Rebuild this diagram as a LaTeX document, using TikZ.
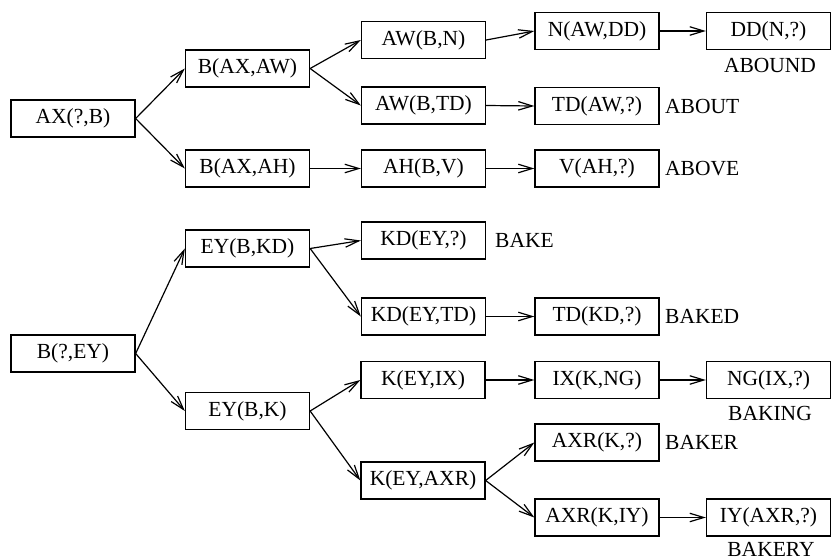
\documentclass[tikz,border=0pt]{standalone}
\usepackage{fontspec}
\setmainfont{Liberation Serif}
\usetikzlibrary{arrows.meta}
\begin{document}
\begin{tikzpicture}[x=1pt,y=-1pt,
  state/.style={draw,line width=1.3pt,minimum width=124pt,minimum height=37pt,inner sep=0pt,font=\fontsize{21.5}{24}\selectfont},
  word/.style={inner sep=0pt,font=\fontsize{21.5}{24}\selectfont},
  link/.style={line width=1.2pt,-{Straight Barb[length=14pt,width=8.5pt,line width=1.2pt]}}]
\useasboundingbox (0,0) rectangle (831,560);
% first tree
\node[state] (ax) at (73,118.5) {AX(?,B)};
\node[state] (baw) at (247.5,68.5) {B(AX,AW)};
\node[state] (bah) at (247.5,168.5) {B(AX,AH)};
\node[state] (awn) at (423.5,40) {AW(B,N)};
\node[state] (awtd) at (423.5,105.5) {AW(B,TD)};
\node[state] (ahv) at (423.5,168.5) {AH(B,V)};
\node[state] (nawdd) at (597,31) {N(AW,DD)};
\node[state] (ddn) at (768.5,31) {DD(N,?)};
\node[state] (tdaw) at (597,106) {TD(AW,?)};
\node[state] (vah) at (597,168.5) {V(AH,?)};
\node[word] (wabound) at (770,65) {ABOUND};
\node[word,anchor=west] (wabout) at (665,106) {ABOUT};
\node[word,anchor=west] (wabove) at (665,168.5) {ABOVE};
% second tree
\node[state] (bey) at (73,353.5) {B(?,EY)};
\node[state] (eykd) at (247.5,248.5) {EY(B,KD)};
\node[state] (eyk) at (247.5,411) {EY(B,K)};
\node[state] (kdey) at (423.5,240.5) {KD(EY,?)};
\node[state] (kdeytd) at (423.5,316.5) {KD(EY,TD)};
\node[state] (tdkd) at (597,316.5) {TD(KD,?)};
\node[state] (keyix) at (423,380) {K(EY,IX)};
\node[state] (ixkng) at (597,380) {IX(K,NG)};
\node[state] (ngix) at (768.5,380) {NG(IX,?)};
\node[state] (keyaxr) at (423,480.5) {K(EY,AXR)};
\node[state] (axrk) at (597,442.5) {AXR(K,?)};
\node[state] (axrkiy) at (597,517.5) {AXR(K,IY)};
\node[state] (iyaxr) at (768.5,517.5) {IY(AXR,?)};
\node[word,anchor=west] (wbake) at (495,240.5) {BAKE};
\node[word,anchor=west] (wbaked) at (665,316.5) {BAKED};
\node[word] (wbaking) at (770,413.5) {BAKING};
\node[word,anchor=west] (wbaker) at (665,442.5) {BAKER};
\node[word] (wbakery) at (771,549.5) {BAKERY};
% connectors
\foreach \s/\t in {ax/baw,ax/bah,baw/awn,baw/awtd,bah/ahv,awn/nawdd,nawdd/ddn,awtd/tdaw,ahv/vah,
  bey/eykd,bey/eyk,eykd/kdey,eykd/kdeytd,kdeytd/tdkd,eyk/keyix,eyk/keyaxr,keyix/ixkng,ixkng/ngix,
  keyaxr/axrk,keyaxr/axrkiy,axrkiy/iyaxr}
  \draw[link] (\s.east) -- (\t.west);
\end{tikzpicture}
\end{document}
